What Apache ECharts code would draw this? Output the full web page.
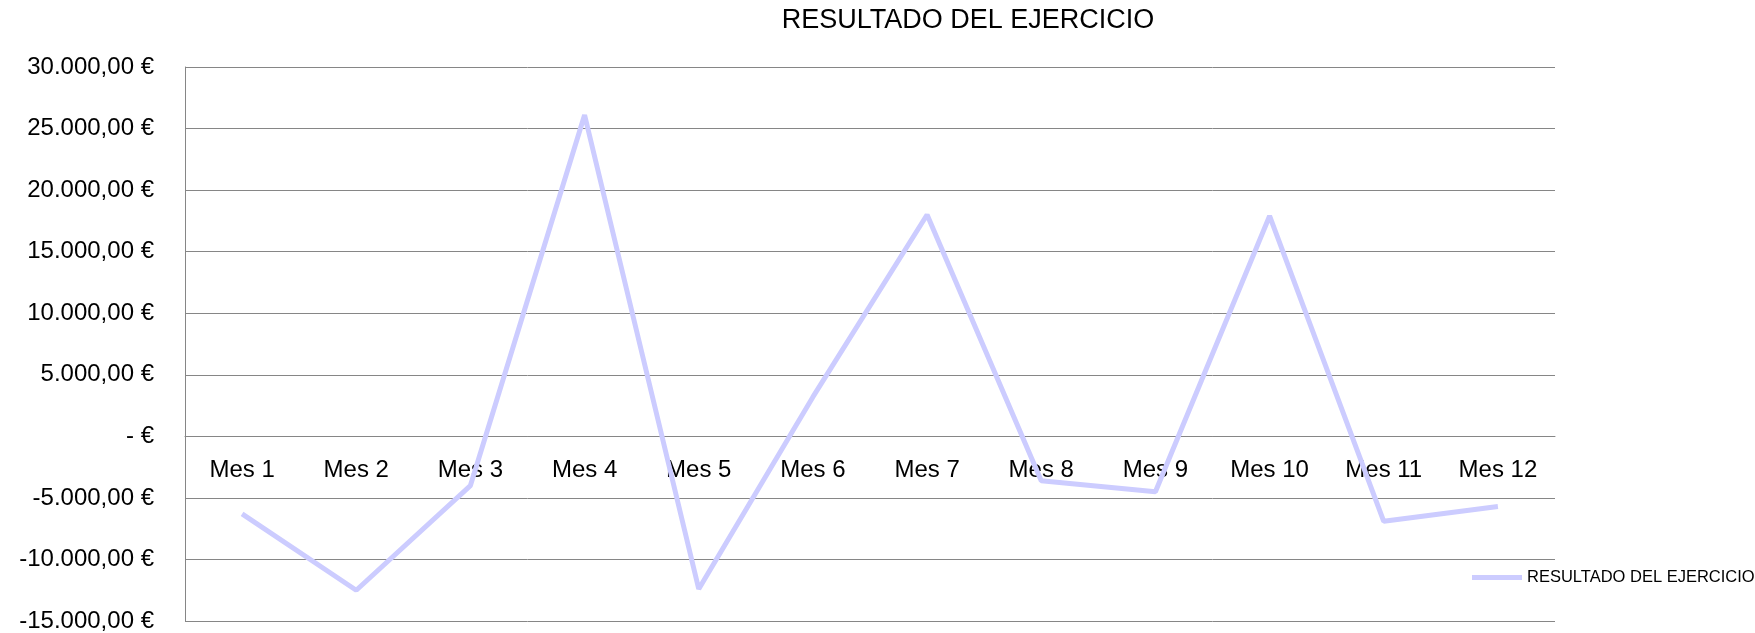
<!DOCTYPE html>
<html>
<head>
<meta charset="utf-8">
<title>RESULTADO DEL EJERCICIO</title>
<script src="https://cdn.jsdelivr.net/npm/echarts@6/dist/echarts.min.js"></script>
<style>
    html, body { margin: 0; padding: 0; background: #ffffff; }
    #chart { width: 1755px; height: 633px; }
</style>
</head>
<body>
<div id="chart"></div>
<script>
// 数据
const chartTitle = 'RESULTADO DEL EJERCICIO';
const months = ['Mes 1', 'Mes 2', 'Mes 3', 'Mes 4', 'Mes 5', 'Mes 6',
                'Mes 7', 'Mes 8', 'Mes 9', 'Mes 10', 'Mes 11', 'Mes 12'];
const resultado = [-6300, -12500, -4000, 26100, -12400, 3200,
                   18000, -3600, -4500, 17900, -6900, -5700];
const yMin = -15000;
const yMax = 30000;
const yStep = 5000;

/**
 * 按西班牙格式显示欧元: 30.000,00 €
 */
function formatEuro(value) {
    if (value === 0) return '- €';
    const neg = value < 0;
    const parts = Math.abs(value).toFixed(2).split('.');
    const intPart = parts[0].replace(/\B(?=(\d{3})+(?!\d))/g, '.');
    return (neg ? '-' : '') + intPart + ',' + parts[1] + ' €';
}

const chart = echarts.init(document.getElementById('chart'));
const fontFamily = '"Liberation Sans", Arial, sans-serif';

// 绘图区
const gridTop = 67;
const gridBottom = 12;
const gridHeight = 633 - gridTop - gridBottom;
// 类目轴放在 0 线上（Excel 风格）
const zeroOffset = -gridHeight * (0 - yMin) / (yMax - yMin);

const option = {
    animation: false,
    title: {
        text: chartTitle,
        left: 963,
        top: 2,
        textAlign: 'center',
        textStyle: {
            fontFamily: fontFamily,
            fontSize: 27,
            fontWeight: 'normal',
            color: '#000'
        }
    },
    legend: {
        data: [chartTitle],
        left: 1467,
        top: 564,
        icon: 'rect',
        itemWidth: 50,
        itemHeight: 5,
        textStyle: {
            fontFamily: fontFamily,
            fontSize: 16.5,
            color: '#000'
        }
    },
    grid: {
        left: 185,
        right: 200,
        top: gridTop,
        bottom: gridBottom,
        outerBoundsMode: 'none'
    },
    xAxis: {
        type: 'category',
        data: months,
        boundaryGap: true,
        offset: zeroOffset,
        axisLine: {
            onZero: false,
            lineStyle: { color: '#868686', width: 1 }
        },
        axisTick: { show: false },
        axisLabel: {
            margin: 22,
            fontFamily: fontFamily,
            fontSize: 24,
            color: '#000'
        }
    },
    yAxis: {
        type: 'value',
        min: yMin,
        max: yMax,
        interval: yStep,
        axisLine: {
            show: true,
            lineStyle: { color: '#868686', width: 1 }
        },
        axisTick: { show: false },
        axisLabel: {
            margin: 31,
            fontFamily: fontFamily,
            fontSize: 24,
            color: '#000',
            formatter: formatEuro
        },
        splitLine: {
            lineStyle: { color: '#868686', width: 1 }
        }
    },
    series: [{
        name: chartTitle,
        type: 'line',
        data: resultado,
        showSymbol: false,
        symbol: 'none',
        lineStyle: { color: '#ccccff', width: 5 },
        itemStyle: { color: '#ccccff' }
    }]
};

chart.setOption(option);
</script>
</body>
</html>
